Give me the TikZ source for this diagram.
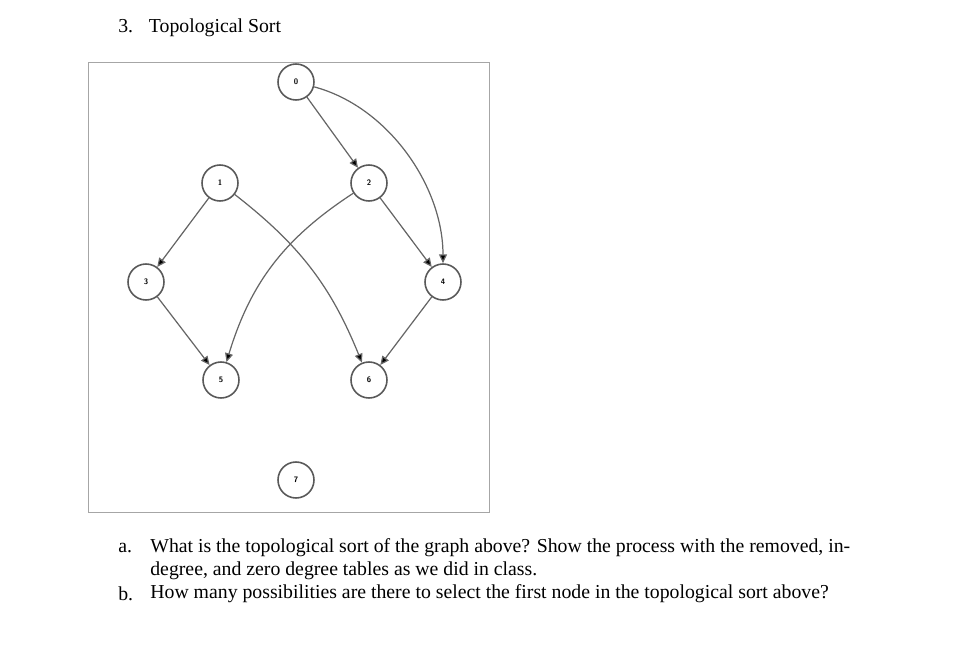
\documentclass[tikz,border=0pt]{standalone}
\usepackage{fontspec}
\setmainfont{Liberation Serif}
\usetikzlibrary{arrows.meta}
\begin{document}
\begin{tikzpicture}[x=0.02cm,y=-0.02cm,
  vtx/.style={circle,draw=black!65,line width=0.9pt,minimum size=0.72cm,inner sep=0pt,fill=white,font=\sffamily\bfseries\fontsize{4.5}{5}\selectfont},
  edge/.style={draw=black!60,line width=0.7pt,-{Triangle[length=5pt,width=4.5pt,fill=black]}},
  txt/.style={anchor=west,inner sep=0pt,font=\fontsize{11.25}{13}\selectfont}]
\useasboundingbox (0,0) rectangle (964,672);
\node[draw=black!35,line width=0.5pt,minimum width=401*0.02cm,minimum height=450*0.02cm,inner sep=0pt] (frame) at (288.5,287) {};
\node[vtx] (n0) at (296,82) {0};
\node[vtx] (n1) at (220,183) {1};
\node[vtx] (n2) at (369,183) {2};
\node[vtx] (n3) at (146,282) {3};
\node[vtx] (n4) at (443,282) {4};
\node[vtx] (n5) at (221,380) {5};
\node[vtx] (n6) at (369,380) {6};
\node[vtx] (n7) at (296,480) {7};
\draw[edge] (n0) -- (n2);
\draw[edge] (n0) to[out=-15,in=90,looseness=0.9] (n4);
\draw[edge] (n1) -- (n3);
\draw[edge] (n1) to[bend left=15] (n6);
\draw[edge] (n2) to[bend right=20] (n5);
\draw[edge] (n2) -- (n4);
\draw[edge] (n3) -- (n5);
\draw[edge] (n4) -- (n6);
\node[txt] (t0) at (118,28) {3.\hspace{0.8em}Topological Sort};
\node[txt] (ta) at (118,548) {a.};
\node[txt] (ta1) at (150,548) {What is the topological sort of the graph above? Show the process with the removed, in-};
\node[txt] (ta2) at (150,571) {degree, and zero degree tables as we did in class.};
\node[txt] (tb) at (118,594) {b.};
\node[txt] (tb1) at (150,594) {How many possibilities are there to select the first node in the topological sort above?};
\end{tikzpicture}
\end{document}
